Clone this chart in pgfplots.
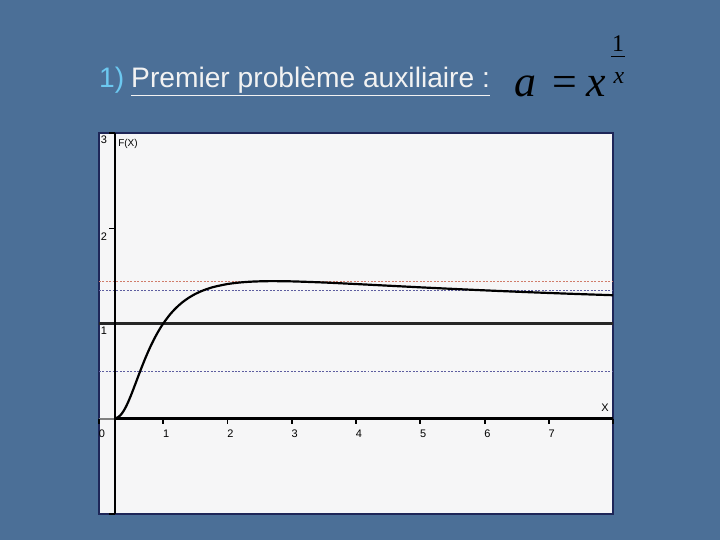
\documentclass[border=0pt]{standalone}
\usepackage{pgfplots}
\pgfplotsset{compat=1.18}
\usepackage{fontspec}
\setmainfont{Liberation Sans}
\newfontfamily\serif{Liberation Serif}
\definecolor{bgcol}{HTML}{4B6F97}
\definecolor{panel}{HTML}{F6F6F7}
\definecolor{frame}{HTML}{1E2658}
\definecolor{numcol}{HTML}{6CC8F0}
\definecolor{reddot}{HTML}{D07C6A}
\definecolor{bluedot}{HTML}{5E5EA0}
\begin{document}
\begin{tikzpicture}[x=1bp,y=1bp]
\useasboundingbox (0,0) rectangle (720,540);
\fill[bgcol] (0,0) rectangle (720,540);
% title
\node[anchor=base west,inner sep=0,font=\fontsize{28.3}{31}\selectfont,text=numcol] at (99,452) {1)};
\node[anchor=base west,inner sep=0,font=\fontsize{28.3}{31}\selectfont,text=white!95!black] at (131,452) {\underline{Premier problème auxiliaire :}};
% formula
\node[anchor=base west,inner sep=0,font=\serif\itshape\fontsize{44}{48}\selectfont,text=black] at (514,443) {a};
\node[anchor=base west,inner sep=0,font=\serif\fontsize{44}{48}\selectfont,text=black] at (552,443) {=};
\node[anchor=base west,inner sep=0,font=\serif\itshape\fontsize{44}{48}\selectfont,text=black] at (586,443) {x};
\node[anchor=base,inner sep=0,font=\serif\fontsize{24}{28}\selectfont,text=black] at (618,488) {1};
\draw[black,line width=0.9] (611,484) -- (625,484);
\node[anchor=base,inner sep=0,font=\serif\itshape\fontsize{24}{28}\selectfont,text=black] at (619,456) {x};
\begin{axis}[
  at={(99bp,26bp)}, anchor=south west,
  scale only axis, width=514bp, height=381bp,
  xmin=0, xmax=8, ymin=-1, ymax=3,
  xtick=\empty, ytick=\empty,
  axis background/.style={fill=panel},
  axis line style={frame,line width=2pt},
  clip=false,
]
% horizontal reference lines
\addplot[reddot,line width=1.1pt,dash pattern=on 2pt off 1.5pt] coordinates {(0,1.4447) (8,1.4447)};
\addplot[bluedot,line width=1.1pt,dash pattern=on 2pt off 1.5pt] coordinates {(0,1.35) (8,1.35)};
\addplot[bluedot,line width=1.1pt,dash pattern=on 2pt off 1.5pt] coordinates {(0,0.5) (8,0.5)};
\addplot[black!85,line width=2.2pt] coordinates {(0,1) (8,1)};
% axes
\addplot[gray,line width=2.2pt] coordinates {(0,0) (0.25,0)};
\addplot[black,line width=2.6pt] coordinates {(0.25,0) (8,0)};
\addplot[black,line width=2.8pt] coordinates {(0.25,-1) (0.25,3)};
% ticks
\pgfplotsinvokeforeach{0,1,2,3,4,5,6,7,8}{
  \draw[black,line width=2pt] (axis cs:#1,0) -- ([yshift=-5bp]axis cs:#1,0);
}
\pgfplotsinvokeforeach{-1,2,3}{
  \draw[black,line width=1.2pt] (axis cs:0.25,#1) -- ([xshift=-6bp]axis cs:0.25,#1);
}
% tick labels
\pgfplotsinvokeforeach{0,1,2,3,4,5,6,7}{
  \node[font=\fontsize{11}{12}\selectfont,inner sep=0] at ([xshift=3bp,yshift=-15bp]axis cs:#1,0) {#1};
}
\node[font=\fontsize{11}{12}\selectfont,inner sep=0] at ([xshift=5bp,yshift=-7bp]axis cs:0,1) {1};
\node[font=\fontsize{11}{12}\selectfont,inner sep=0] at ([xshift=5bp,yshift=-8bp]axis cs:0,2) {2};
\node[font=\fontsize{11}{12}\selectfont,inner sep=0] at ([xshift=5bp,yshift=-7bp]axis cs:0,3) {3};
\node[font=\fontsize{10}{12}\selectfont,inner sep=0,anchor=west] at ([xshift=3bp,yshift=-11bp]axis cs:0.25,3) {F(X)};
\node[font=\fontsize{11}{12}\selectfont,inner sep=0] at ([xshift=-8bp,yshift=11bp]axis cs:8,0) {X};
% curve a = x^(1/x)
\addplot[black,line width=2.2pt,smooth] coordinates {
(0.25,0.0039) (0.30,0.0181) (0.35,0.0498) (0.40,0.1012) (0.45,0.1696)
(0.50,0.2500) (0.55,0.3373) (0.60,0.4268) (0.65,0.5154) (0.70,0.6008)
(0.75,0.6814) (0.80,0.7566) (0.85,0.8260) (0.90,0.8895) (0.95,0.9474)
(1.00,1.0000) (1.10,1.0905) (1.20,1.1641) (1.30,1.2236) (1.40,1.2717)
(1.50,1.3104) (1.60,1.3414) (1.70,1.3663) (1.80,1.3861) (2.00,1.4142)
(2.20,1.4310) (2.40,1.4402) (2.60,1.4441) (2.72,1.4447) (3.00,1.4422)
(3.50,1.4303) (4.00,1.4142) (4.50,1.3969) (5.00,1.3797) (5.50,1.3634)
(6.00,1.3480) (6.50,1.3337) (7.00,1.3205) (7.50,1.3082) (8.00,1.2968)
};
\end{axis}
\end{tikzpicture}
\end{document}
